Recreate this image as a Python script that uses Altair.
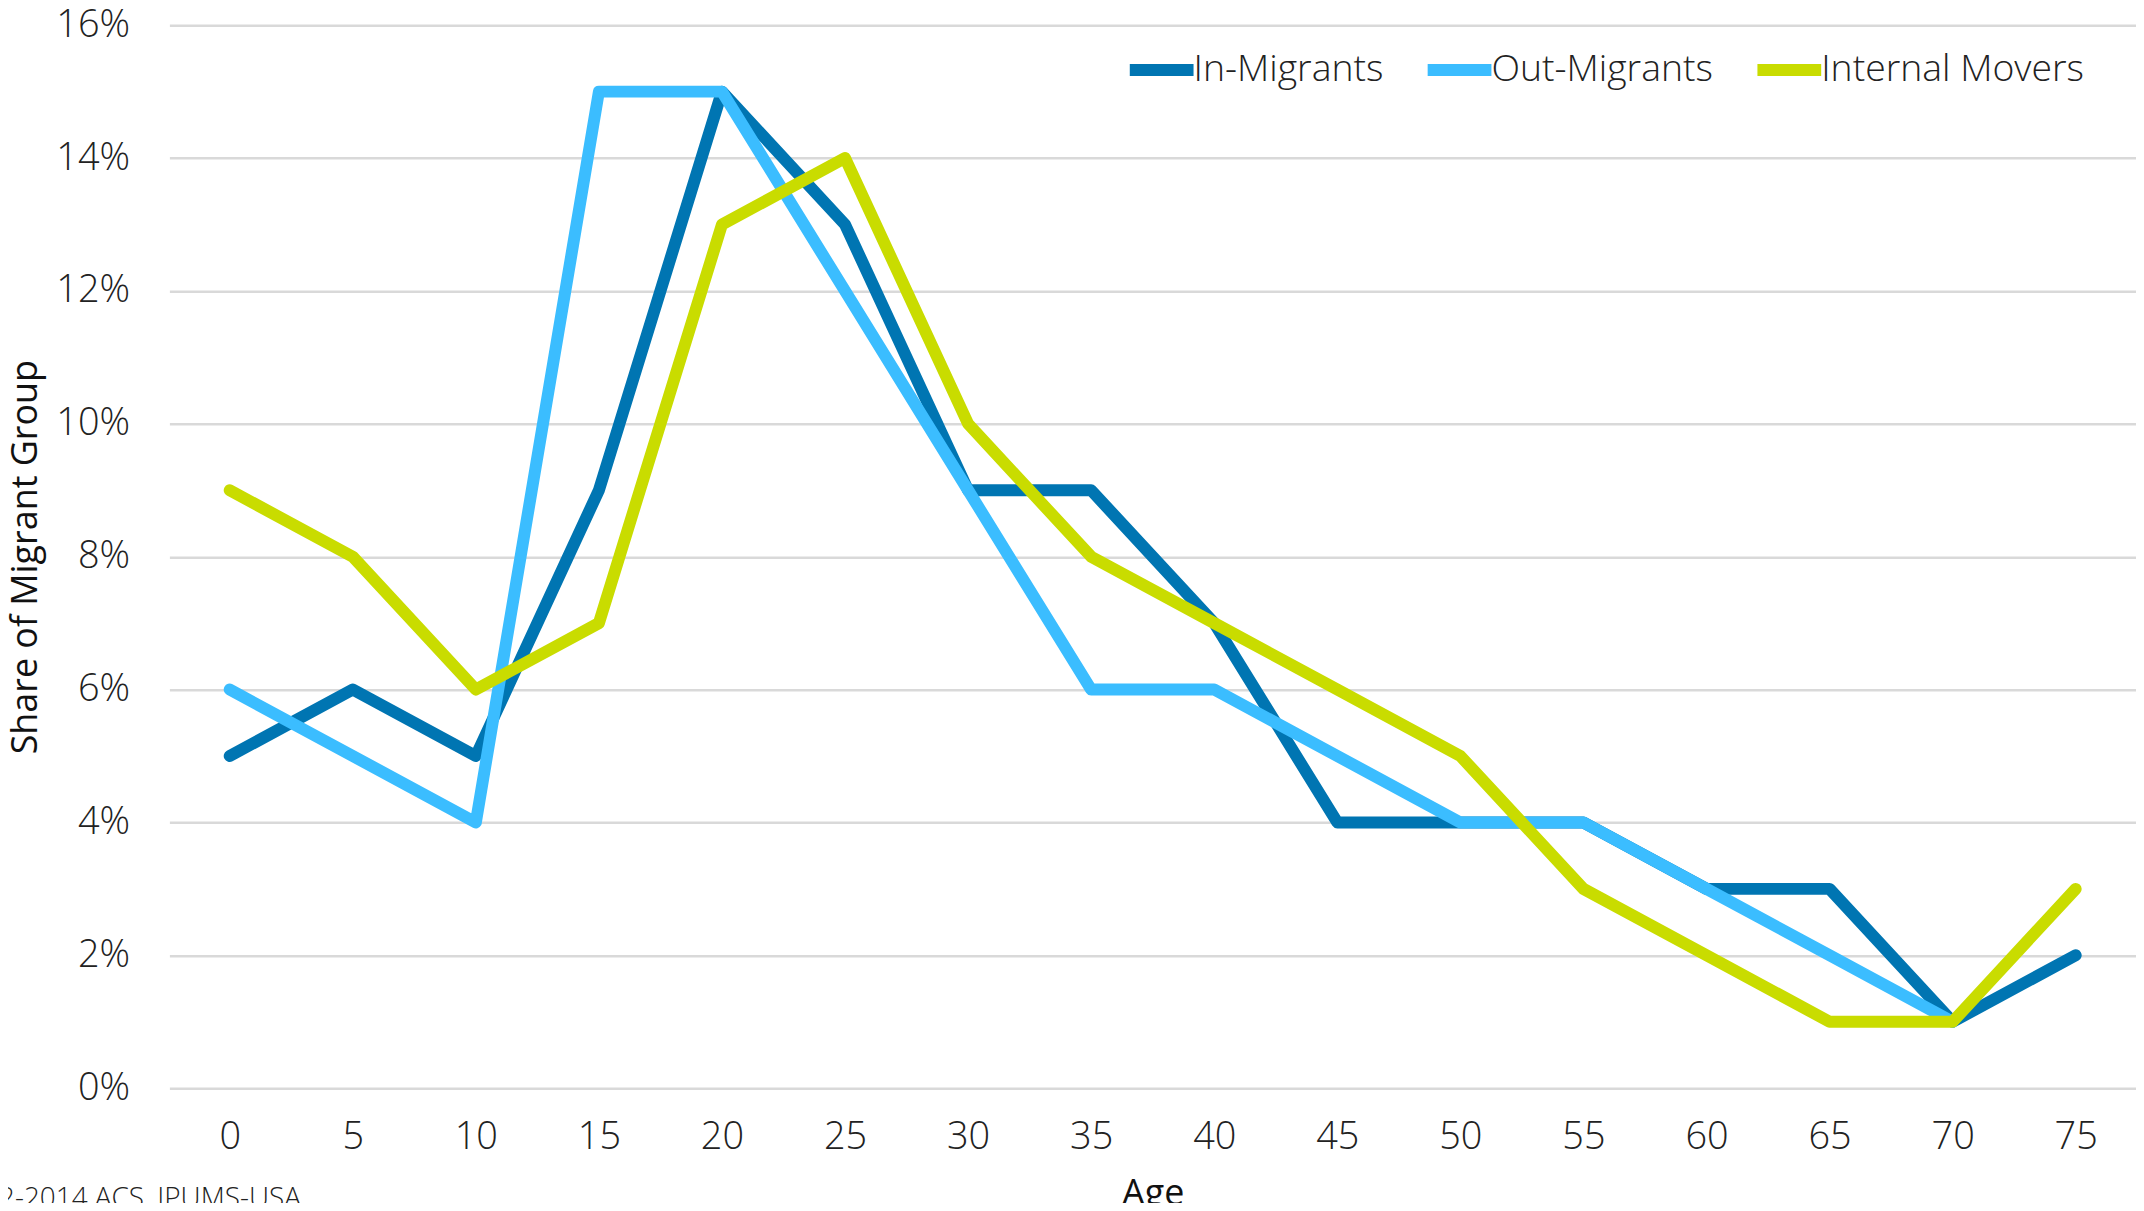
import altair as alt
import pandas as pd

ages = [0, 5, 10, 15, 20, 25, 30, 35, 40, 45, 50, 55, 60, 65, 70, 75]
in_migrants = [5, 6, 5, 9, 15, 13, 9, 9, 7, 4, 4, 4, 3, 3, 1, 2]
out_migrants = [6, 5, 4, 15, 15, 12, 9, 6, 6, 5, 4, 4, 3, 2, 1, None]
internal_movers = [9, 8, 6, 7, 13, 14, 10, 8, 7, 6, 5, 3, 2, 1, 1, 3]

series_names = ["In-Migrants", "Out-Migrants", "Internal Movers"]
series_colors = ["#0075B2", "#3BBDFF", "#C9DC00"]
y_ticks = [0, 2, 4, 6, 8, 10, 12, 14, 16]
source_text = "2-2014 ACS, IPUMS-USA"

rows = []
for name, vals in zip(series_names, [in_migrants, out_migrants, internal_movers]):
    for i, (a, v) in enumerate(zip(ages, vals)):
        if v is not None:
            rows.append({"Age": a, "Share": v, "Group": name, "order": i})
df = pd.DataFrame(rows)

FONT = "Open Sans"

lines = alt.Chart(df).mark_line(
    strokeWidth=12, strokeCap="round", strokeJoin="round"
).encode(
    x=alt.X("Age:O", sort=ages, scale=alt.Scale(type="point", padding=0.49),
            axis=alt.Axis(title="Age", labelAngle=0, labelPadding=31,
                          titleY=117, titleBaseline="alphabetic",
                          domain=False, ticks=False, grid=False)),
    y=alt.Y("Share:Q", scale=alt.Scale(domain=[0, 16], nice=False),
            axis=alt.Axis(title="Share of Migrant Group", values=y_ticks,
                          labelExpr="datum.value + '%'", labelPadding=40,
                          titleX=-133, titleBaseline="alphabetic",
                          domain=False, ticks=False, grid=True,
                          gridColor="#d9d9d9", gridWidth=2.5)),
    color=alt.Color("Group:N",
                    scale=alt.Scale(domain=series_names, range=series_colors),
                    sort=series_names,
                    legend=alt.Legend(orient="none", legendX=958, legendY=7,
                                      direction="horizontal", title=None,
                                      symbolType="stroke", symbolSize=4096,
                                      symbolStrokeWidth=12,
                                      labelOffset={"expr": "-6"},
                                      labelLimit=500, columnPadding=20)),
    order=alt.Order("order:Q"),
    detail="Group:N",
)

src = alt.Chart(pd.DataFrame({"t": [source_text]})).mark_text(
    align="left", baseline="alphabetic", fontSize=28, font=FONT,
    fontWeight=300, color="#222222"
).encode(text="t:N", x=alt.value(-171), y=alt.value(1186))

chart = alt.layer(lines, src).properties(
    width=1974, height=1067,
    autosize=alt.AutoSizeParams(type="none"),
    padding={"left": 162, "top": 15, "right": 0, "bottom": 113},
).configure_view(stroke=None).configure_axis(
    labelFont=FONT, labelFontSize=38, labelFontWeight=300, labelColor="#222222",
    titleFont=FONT, titleFontSize=36, titleFontWeight=400, titleColor="#111111",
).configure_legend(
    labelFont=FONT, labelFontSize=37.5, labelFontWeight=300, labelColor="#222222",
)

chart.save("out.html", embed_options={"renderer": "svg", "actions": False})
